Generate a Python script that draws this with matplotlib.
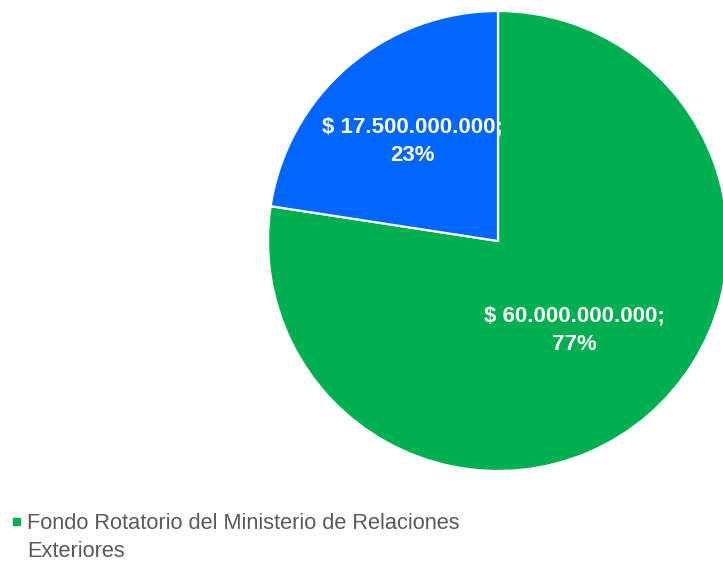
import numpy as np
import matplotlib.pyplot as plt
from matplotlib.patches import Rectangle

# data
labels = ["Fondo Rotatorio del Ministerio de Relaciones\nExteriores", "Otros"]
values = [60000000000, 17500000000]
pcts = ["77%", "23%"]
colors = ["#00B050", "#0066FF"]

W, H = 723, 563
cx, cy, R = 498, 241, 230

fig = plt.figure(figsize=(W / 100, H / 100), dpi=100)
ax = fig.add_axes([0, 0, 1, 1])

wedges, _ = ax.pie(values, colors=colors, startangle=90, counterclock=False,
                   radius=1, wedgeprops=dict(edgecolor="white", linewidth=1.6))
# pie resets limits, so set them afterwards
ax.set_xlim(-cx / R, (W - cx) / R)
ax.set_ylim(-(H - cy) / R, cy / R)
ax.axis("off")

label_font = ["Liberation Sans Narrow", "Liberation Sans"]
dists = [0.51, 0.57]
for w, v, p, d in zip(wedges, values, pcts, dists):
    th = np.deg2rad((w.theta1 + w.theta2) / 2)
    txt = "$ " + f"{v:,}".replace(",", ".") + ";\n" + p
    ax.text(d * np.cos(th), d * np.sin(th), txt, ha="center", va="center",
            color="white", fontsize=16, fontweight="bold",
            family=label_font, linespacing=1.45)

# legend (only first entry visible)
fig.patches.append(Rectangle((13 / W, 1 - 525 / H), 7 / W, 7 / H,
                             transform=fig.transFigure, color=colors[0]))
fig.text(27 / W, 1 - 513 / H, labels[0], ha="left", va="top",
         color="#595959", fontsize=15.7, family=label_font, linespacing=1.45)

fig.savefig("out.png", dpi=100)
